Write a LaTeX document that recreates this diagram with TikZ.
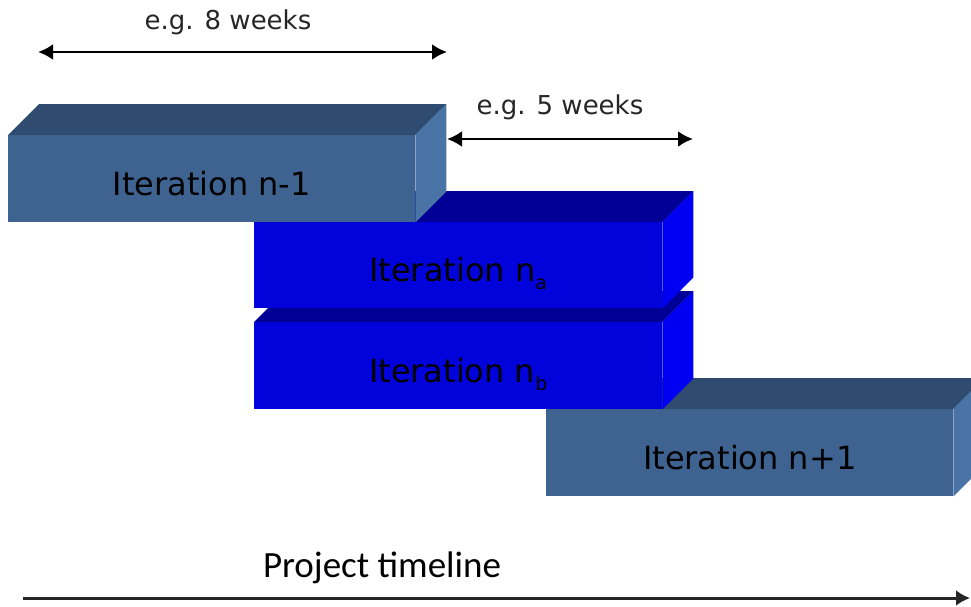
\documentclass[tikz,border=0pt]{standalone}
\usepackage{fontspec}
\setmainfont{DejaVu Sans}
\newfontfamily\calib{Carlito}
\usetikzlibrary{arrows.meta}
\definecolor{sfront}{RGB}{62,99,145}
\definecolor{stop}{RGB}{47,76,112}
\definecolor{sside}{RGB}{74,115,166}
\definecolor{bfront}{RGB}{2,2,218}
\definecolor{btop}{RGB}{0,0,150}
\definecolor{bside}{RGB}{0,0,242}
\tikzset{
  itbox/.style={anchor=north west, inner sep=0pt, minimum width=407pt, minimum height=87pt},
  itlabel/.style={inner sep=0pt, text height=23pt, text depth=0pt, font=\fontsize{32}{36}\selectfont, text=black},
  dimarrow/.style={line width=2.6pt, {Latex[length=15pt,width=16pt]}-{Latex[length=15pt,width=16pt]}},
  dimlabel/.style={font=\fontsize{26}{30}\selectfont, text=black!85},
}
\newcommand{\facesof}[3]{%
  \fill[#2] (#1.north west) -- ([shift={(31,-31)}]#1.north west) -- ([shift={(31,-31)}]#1.north east) -- (#1.north east) -- cycle;
  \fill[#3] (#1.north east) -- ([shift={(31,-31)}]#1.north east) -- ([shift={(31,-31)}]#1.south east) -- (#1.south east) -- cycle;
}
\newcommand{\subl}[1]{\raisebox{-8pt}{\fontsize{19}{19}\selectfont #1}}
\begin{document}
\begin{tikzpicture}[x=1pt,y=-1pt]
\useasboundingbox (0,0) rectangle (971,606);
\clip (0,0) rectangle (971,606);
% back to front
\node[itbox, fill=sfront] (np1) at (546,409) {};
\facesof{np1}{stop}{sside}
\node[itlabel] (np1t) at ([yshift=-5pt]np1.center) {Iteration n+1};
\node[itbox, fill=bfront, minimum width=408pt] (nb) at (254,322) {};
\facesof{nb}{btop}{bside}
\node[itlabel] (nbt) at ([yshift=-5pt]nb.center) {Iteration n\subl{b}};
\node[itbox, fill=bfront, minimum width=408pt, minimum height=86pt] (na) at (254,222) {};
\facesof{na}{btop}{bside}
\node[itlabel] (nat) at ([yshift=-5pt]na.center) {Iteration n\subl{a}};
\node[itbox, fill=sfront] (nm1) at (8,135) {};
\facesof{nm1}{stop}{sside}
\node[itlabel] (nm1t) at ([yshift=-5pt]nm1.center) {Iteration n-1};
% dimension arrows
\coordinate (a8l) at (38,52);
\coordinate (a8r) at (447,52);
\draw[dimarrow] (a8l) -- (a8r);
\node[dimlabel] (l8) at (228,22) {e.g. 8 weeks};
\coordinate (a5l) at (447,139);
\coordinate (a5r) at (693,139);
\draw[dimarrow] (a5l) -- (a5r);
\node[dimlabel] (l5) at (560,107) {e.g. 5 weeks};
% timeline
\node[font=\calib\fontsize{37}{40}\selectfont] (pt) at (382,568) {Project timeline};
\coordinate (tl) at (23,598);
\coordinate (tr) at (970,598);
\draw[line width=3pt, black!85, -{Latex[length=14pt,width=16pt]}] (tl) -- (tr);
\end{tikzpicture}
\end{document}
